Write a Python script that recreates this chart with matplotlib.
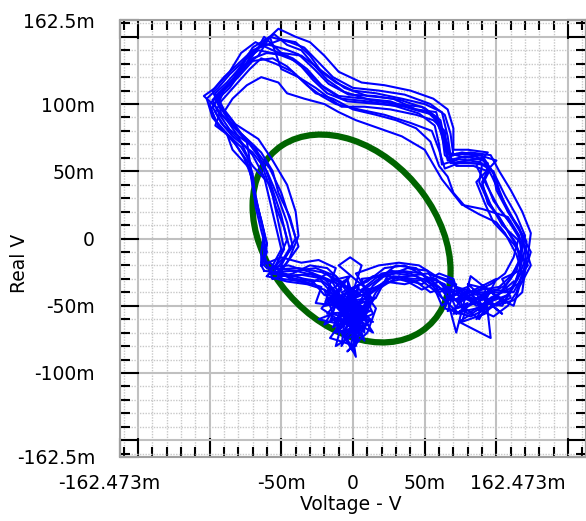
import matplotlib
matplotlib.use('Agg')
import matplotlib.pyplot as plt
from matplotlib.patches import Ellipse
from matplotlib.ticker import MultipleLocator

# axis ranges (mV)
x_lim = 162.473
y_lim = 162.5

x_ticks = [-162.473, -150, -100, -50, 0, 50, 100, 150, 162.473]
x_labels = ['', '', '', '-50m', '0', '50m', '', '', '']
y_ticks = [-162.5, -150, -100, -50, 0, 50, 100, 150, 162.5]
y_labels = ['-162.5m', '', '-100m', '-50m', '0', '50m', '100m', '', '162.5m']

# green reference ellipse (mV): centre, full width/height, tilt in degrees
ell_center = (-1, 0)
ell_width = 169
ell_height = 120
ell_angle = -55

loops = [
    [(-55, -25), (-40, -24), (-25, -28), (-14, -33), (-6, -48), (4, -40), (-10, -58), (2, -70), (-4, -52), (8, -45),
     (14, -35), (26, -24), (40, -26), (52, -32), (66, -40), (74, -48), (82, -42), (95, -41), (106, -35), (114, -24),
     (118, -9), (120, 2), (114, 17), (106, 32), (99, 47), (92, 58), (78, 61), (66, 58), (64, 73), (61, 88), (50, 97),
     (33, 103), (15, 106), (-3, 107), (-17, 115), (-27, 126), (-38, 137), (-48, 141), (-62, 145), (-73, 137),
     (-80, 122), (-91, 111), (-98, 103), (-93, 92), (-86, 81), (-72, 70), (-62, 55), (-56, 36), (-50, 17),
     (-46, -1), (-52, -16), (-55, -25)],
    [(-60, -22), (-45, -20), (-30, -25), (-18, -30), (-2, -38), (-12, -50), (6, -62), (-6, -75), (10, -55), (0, -44),
     (18, -30), (30, -20), (44, -22), (56, -35), (62, -50), (76, -38), (88, -46), (100, -44), (110, -30), (116, -16),
     (118, -4), (104, 10), (96, 25), (90, 40), (96, 52), (88, 57), (74, 59), (62, 55), (60, 70), (57, 84), (46, 93),
     (28, 99), (10, 102), (-8, 104), (-20, 112), (-30, 122), (-40, 132), (-52, 137), (-66, 140), (-76, 132),
     (-84, 118), (-94, 106), (-100, 100), (-96, 88), (-88, 78), (-84, 66), (-72, 52), (-69, 32), (-64, 14),
     (-60, -4), (-64, -18), (-60, -22)],
    [(-52, -28), (-36, -27), (-20, -30), (-10, -42), (-16, -62), (4, -50), (-2, -82), (12, -60), (-8, -40), (10, -32),
     (22, -22), (36, -20), (50, -28), (64, -34), (72, -52), (86, -48), (98, -38), (112, -40), (118, -28), (122, -12),
     (124, 4), (118, 20), (110, 36), (102, 50), (96, 62), (82, 64), (70, 62), (68, 78), (64, 92), (54, 100),
     (36, 107), (18, 110), (0, 112), (-14, 120), (-24, 131), (-34, 142), (-44, 146), (-58, 150), (-70, 142),
     (-78, 128), (-88, 116), (-96, 108), (-90, 96), (-82, 85), (-66, 74), (-56, 58), (-46, 40), (-40, 20),
     (-38, 2), (-44, -14), (-52, -28)],
    [(-58, -26), (-42, -28), (-28, -26), (-16, -36), (-20, -50), (-4, -46), (-14, -66), (0, -58), (8, -70), (4, -48),
     (16, -38), (28, -28), (42, -30), (58, -30), (70, -44), (80, -56), (92, -48), (104, -50), (112, -36), (117, -20),
     (114, -4), (104, 12), (94, 28), (88, 42), (90, 55), (76, 57), (64, 52), (60, 66), (55, 80), (40, 86), (22, 92),
     (4, 96), (-12, 100), (-22, 106), (-32, 114), (-42, 124), (-54, 130), (-64, 134), (-72, 126), (-82, 114),
     (-92, 102), (-96, 94), (-90, 84), (-78, 72), (-70, 62), (-62, 46), (-58, 28), (-54, 10), (-50, -8),
     (-56, -20), (-58, -26)],
    [(-54, -23), (-38, -22), (-22, -25), (-8, -32), (2, -44), (-8, -56), (6, -50), (-2, -64), (14, -56), (6, -38),
     (20, -26), (34, -24), (48, -26), (60, -36), (68, -46), (78, -44), (90, -38), (102, -36), (110, -28), (118, -14),
     (116, 0), (108, 14), (98, 28), (92, 44), (94, 56), (84, 62), (72, 63), (66, 60), (62, 76), (58, 90), (48, 98),
     (30, 100), (12, 103), (-6, 109), (-18, 118), (-28, 130), (-36, 140), (-46, 144), (-55, 152), (-64, 144),
     (-72, 134), (-82, 120), (-92, 108), (-98, 98), (-92, 86), (-84, 76), (-70, 64), (-60, 50), (-52, 30),
     (-46, 12), (-42, -6), (-50, -18), (-54, -23)],
    [(-62, -24), (-48, -26), (-34, -30), (-22, -32), (-10, -46), (-18, -56), (2, -54), (-6, -68), (12, -44), (2, -36),
     (14, -28), (30, -26), (44, -28), (56, -38), (64, -46), (74, -40), (86, -50), (98, -46), (108, -42), (115, -30),
     (120, -16), (121, -2), (112, 14), (104, 30), (97, 46), (90, 60), (80, 58), (68, 56), (66, 70), (60, 86),
     (52, 94), (36, 98), (18, 100), (-4, 102), (-18, 108), (-28, 118), (-36, 128), (-46, 136), (-60, 138),
     (-70, 134), (-78, 124), (-86, 112), (-94, 104), (-99, 96), (-94, 84), (-84, 74), (-76, 60), (-70, 44),
     (-68, 24), (-64, 6), (-60, -10), (-64, -20), (-62, -24)],
    [(-56, -22), (-40, -24), (-26, -22), (-12, -28), (-4, -40), (-14, -46), (0, -62), (10, -52), (16, -40), (24, -30),
     (38, -28), (52, -26), (62, -30), (72, -36), (84, -40), (96, -34), (106, -26), (112, -14), (116, 2), (108, 16),
     (90, 22), (76, 25), (62, 44), (50, 66), (34, 76), (18, 82), (2, 88), (-10, 94), (-20, 100), (-34, 104),
     (-46, 108), (-52, 116), (-64, 120), (-74, 114), (-84, 104), (-90, 94), (-84, 84), (-76, 76), (-64, 64),
     (-56, 50), (-52, 34), (-44, 16), (-40, 0), (-48, -14), (-56, -22)],
    [(-64, -20), (-50, -14), (-36, -18), (-24, -16), (-12, -22), (-18, -40), (-4, -30), (-22, -52), (-8, -62),
     (-16, -74), (2, -80), (6, -60), (14, -46), (2, -26), (18, -20), (32, -18), (46, -20), (58, -28), (70, -32),
     (64, -52), (82, -58), (94, -52), (104, -46), (112, -50), (116, -36), (124, -20), (120, -6), (112, 8), (102, 22),
     (94, 38), (86, 54), (94, 64), (80, 66), (70, 66), (70, 82), (66, 96), (56, 104), (40, 110), (22, 114),
     (6, 116), (-10, 124), (-20, 136), (-30, 146), (-40, 150), (-52, 156), (-60, 148), (-68, 140), (-76, 132),
     (-86, 122), (-94, 112), (-102, 104), (-98, 90), (-90, 80), (-82, 70), (-74, 58), (-70, 42), (-66, 22),
     (-62, 4), (-64, -10), (-64, -20)],
    [(-50, -30), (-34, -32), (-22, -36), (-26, -48), (-12, -50), (-20, -64), (-6, -56), (4, -76), (-4, -84),
     (10, -70), (16, -52), (8, -40), (20, -34), (34, -30), (48, -34), (60, -26), (70, -30), (76, -50), (88, -60),
     (96, -44), (108, -38), (118, -32), (120, -18), (112, -2), (102, 16), (94, 26), (90, 42), (94, 50), (84, 54),
     (72, 54), (66, 64), (64, 80), (56, 88), (44, 92), (26, 96), (8, 98), (-8, 98), (-16, 104), (-26, 112),
     (-38, 120), (-50, 126), (-54, 138), (-58, 150), (-66, 136), (-76, 128), (-86, 116), (-96, 104), (-92, 96),
     (-96, 84), (-86, 76), (-78, 68), (-70, 54), (-58, 40), (-54, 24), (-48, 8), (-44, -8), (-50, -20), (-50, -30)],
    [(-58, -18), (-44, -30), (-30, -34), (-18, -26), (-8, -38), (-16, -46), (0, -50), (-10, -60), (6, -66),
     (-4, -46), (12, -40), (22, -32), (36, -34), (50, -30), (60, -40), (72, -34), (66, -54), (80, -48), (76, -62),
     (92, -56), (86, -40), (100, -50), (110, -44), (104, -30), (116, -24), (120, -8), (116, 8), (108, 20), (102, 36),
     (98, 50), (88, 56), (70, 56), (64, 62), (62, 78), (56, 92), (42, 96), (26, 102), (8, 104), (-10, 106),
     (-22, 114), (-32, 126), (-42, 134), (-56, 140), (-68, 146), (-78, 138), (-86, 124), (-96, 112), (-104, 106),
     (-96, 98), (-88, 88), (-80, 76), (-74, 62), (-70, 48), (-68, 30), (-64, 12), (-60, -4), (-62, -18), (-58, -18)],
    [(-54, -26), (-40, -30), (-28, -32), (-20, -42), (-6, -44), (-12, -70), (2, -66), (-8, -50), (8, -38), (20, -36),
     (32, -28), (44, -32), (54, -40), (66, -36), (76, -42), (70, -56), (86, -52), (98, -58), (108, -50), (114, -40),
     (118, -26), (114, -12), (106, 4), (100, 12), (88, 18), (78, 24), (70, 34), (66, 46), (60, 54), (54, 72),
     (44, 82), (30, 88), (16, 92), (0, 96), (-14, 104), (-26, 108), (-36, 118), (-46, 128), (-56, 134), (-70, 132),
     (-80, 120), (-90, 110), (-94, 100), (-88, 90), (-80, 80), (-68, 66), (-58, 52), (-50, 34), (-44, 14),
     (-38, -6), (-46, -18), (-54, -26)],
    [(-60, -28), (-46, -32), (-32, -34), (-20, -38), (-14, -56), (-24, -60), (-8, -64), (-12, -80), (0, -72),
     (8, -58), (-2, -54), (12, -50), (6, -30), (24, -28), (38, -22), (52, -24), (62, -44), (74, -56), (84, -46),
     (96, -40), (106, -46), (114, -30), (122, -20), (112, -4), (98, 12), (92, 26), (86, 42), (100, 58), (88, 62),
     (76, 64), (68, 62), (66, 76), (62, 94), (50, 100), (34, 104), (16, 108), (0, 110), (-12, 116), (-22, 124),
     (-30, 136), (-40, 146), (-50, 148), (-60, 144), (-70, 140), (-80, 130), (-90, 120), (-98, 110), (-94, 100),
     (-86, 90), (-78, 78), (-68, 68), (-62, 50), (-56, 32), (-52, 12), (-48, -8), (-54, -20), (-60, -28)],
    [(-56, -30), (-42, -26), (-30, -20), (-18, -22), (-10, -30), (-2, -28), (-14, -44), (4, -52), (-10, -56),
     (10, -64), (-6, -70), (2, -88), (-2, -60), (14, -70), (-4, -40), (8, -32), (-20, -50), (0, -46), (16, -44),
     (24, -28), (38, -32), (48, -38), (60, -32), (70, -40), (80, -36), (90, -54), (98, -50), (112, -46), (118, -40),
     (120, -24), (124, -10), (116, 6), (108, 20), (100, 36), (98, 48), (90, 62), (78, 60), (66, 64), (62, 80),
     (58, 94), (44, 96), (28, 104), (10, 106), (-6, 112), (-16, 120), (-26, 128), (-36, 136), (-50, 138),
     (-62, 150), (-66, 142), (-74, 130), (-84, 116), (-94, 108), (-92, 92), (-84, 84), (-74, 72), (-72, 58),
     (-70, 40), (-66, 22), (-62, 4), (-62, -12), (-56, -30)],
]

# extra scribble inside the two dense knots (mV)
knot_centre = [(-14, -30), (6, -42), (-8, -48), (10, -58), (-12, -62), (4, -36), (-6, -72), (12, -48), (-18, -44),
               (2, -66), (-4, -40), (8, -76), (-10, -50), (14, -62), (-16, -56), (0, -84), (6, -54), (-20, -38),
               (-2, -58), (10, -38), (-10, -20), (-2, -14), (6, -20), (-8, -66), (4, -50), (-14, -48), (8, -68),
               (-4, -30), (2, -78), (-10, -42), (12, -54), (-6, -60), (16, -44), (-12, -70), (0, -46), (6, -60),
               (-16, -36), (4, -70), (-2, -52), (10, -46), (-8, -80), (-4, -44), (2, -36)]
knot_right = [(66, -30), (84, -48), (72, -56), (96, -38), (80, -34), (104, -56), (90, -44), (70, -46), (100, -30),
              (86, -60), (110, -40), (76, -40), (94, -52), (64, -38), (72, -70), (82, -28), (106, -48), (92, -36),
              (96, -74), (74, -62), (100, -44), (88, -54), (112, -32)]

plt.rcParams['font.family'] = ['DejaVu Sans']
plt.rcParams['font.size'] = 13.5

fig = plt.figure(figsize=(5.86, 5.21), dpi=100)
ax = fig.add_axes([120 / 586, 64 / 521, 466 / 586, 437 / 521])

ax.add_patch(Ellipse(ell_center, ell_width, ell_height, angle=ell_angle,
                     fill=False, edgecolor='#006400', linewidth=4.5, zorder=2))

for loop in loops + [knot_centre, knot_right]:
    xs = [p[0] for p in loop]
    ys = [p[1] for p in loop]
    ax.plot(xs, ys, color='#0000ff', linewidth=1.5, zorder=3)

ax.set_xlim(-x_lim, x_lim)
ax.set_ylim(-y_lim, y_lim)
ax.set_xticks(x_ticks)
ax.set_xticklabels(x_labels)
ax.set_yticks(y_ticks)
ax.set_yticklabels(y_labels)
ax.xaxis.set_minor_locator(MultipleLocator(10))
ax.yaxis.set_minor_locator(MultipleLocator(10))

ax.grid(True, which='major', color='#c0c0c0', linewidth=1.5, zorder=0)
ax.grid(True, which='minor', color='#c8c8c8', linewidth=1.0, linestyle=(0, (1, 1)), zorder=0)
ax.set_axisbelow(True)

ax.tick_params(which='both', direction='in', top=True, right=True, color='black')
ax.tick_params(which='major', length=14, width=1.5)
ax.tick_params(which='minor', length=7, width=1.5)
ax.tick_params(axis='x', which='major', pad=12)
ax.tick_params(axis='y', which='major', pad=18)

for side in ax.spines.values():
    side.set_color('#a0a0a0')
    side.set_linewidth(1.5)

ax.text(-0.024, -0.06, '-162.473m', transform=ax.transAxes, ha='center', va='center')
ax.text(0.854, -0.06, '162.473m', transform=ax.transAxes, ha='center', va='center')

ax.set_xlabel('Voltage - V')
ax.set_ylabel('Real V')
ax.xaxis.set_label_coords(0.495, -0.088)
ax.yaxis.set_label_coords(-0.195, 0.444)

fig.savefig('out.png', dpi=100)
